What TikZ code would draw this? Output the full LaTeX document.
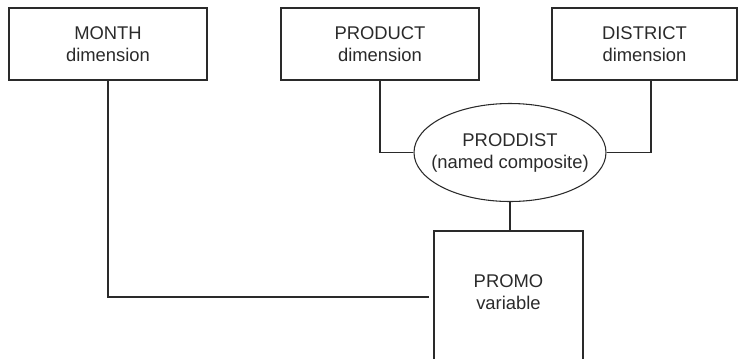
\documentclass[tikz,border=0pt]{standalone}
\usepackage{fontspec}
\setmainfont{Liberation Sans}
\usetikzlibrary{shapes.geometric}
\definecolor{ink}{HTML}{2A2A2A}
\begin{document}
\begin{tikzpicture}[x=0.75pt,y=-0.75pt,
  every node/.style={font=\fontsize{13.8}{16.5}\selectfont, text=ink, align=center},
  dimbox/.style={draw=ink, line width=0.8pt, rectangle, minimum height=54pt, inner sep=0pt},
  comp/.style={draw=ink, line width=0.8pt, ellipse, minimum width=144pt, minimum height=73.5pt, inner xsep=-20pt, inner ysep=0pt},
  link/.style={draw=ink, line width=0.8pt}]
\useasboundingbox (0,0) rectangle (739,358);
\clip (0,0) rectangle (739,358);
\node[dimbox, minimum width=148.5pt] (month) at (108,44) {MONTH\\dimension};
\node[dimbox, minimum width=148.5pt] (prod) at (380,44) {PRODUCT\\dimension};
\node[dimbox, minimum width=138.75pt] (dist) at (644.5,44) {DISTRICT\\dimension};
\node[comp] (pd) at (510,152.5) {PRODDIST\\(named composite)};
\node (promo) at (508.5,292) {PROMO\\variable};
\coordinate (ptl) at (434,231);
\coordinate (ptr) at (583,231);
\coordinate (mend) at (429,297);
\coordinate (dtop) at (651,80);
% open-bottom PROMO box
\draw[link] (ptl |- 0,380) -- (ptl) -- (ptr) -- (ptr |- 0,380);
% connectors
\draw[link] (month.south) |- (mend);
\draw[link] (prod.south) |- (pd.west);
\draw[link] (dtop) |- (pd.east);
\draw[link] (pd.south) -- (pd.south |- ptl);
\end{tikzpicture}
\end{document}
